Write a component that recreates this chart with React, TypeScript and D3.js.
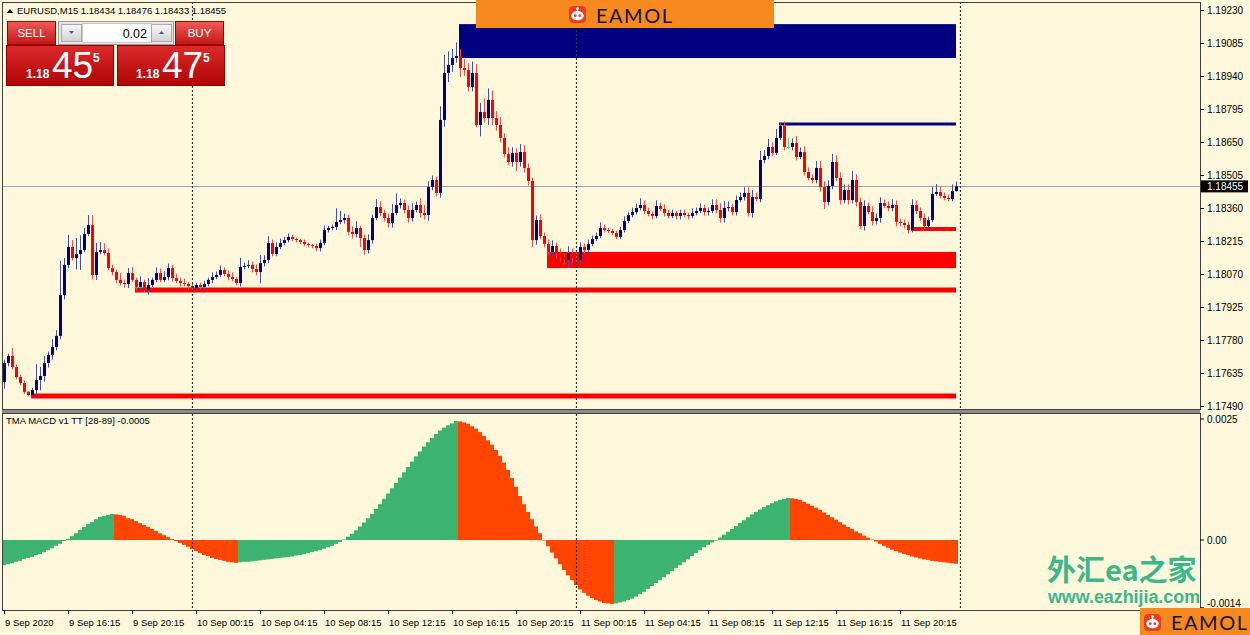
import React from 'react';
import * as d3 from 'd3';

// ---------------- DATA ----------------
const firstOpen = 1.17596;
const closes = [
  1.17679, 1.1771, 1.17661, 1.17617, 1.17591, 1.17552, 1.17538, 1.1756, 1.17604, 1.17622,
  1.17679, 1.17714, 1.17749, 1.17798, 1.17978, 1.1811, 1.18189, 1.1814, 1.18158, 1.18175,
  1.18246, 1.18285, 1.18066, 1.18167, 1.18175, 1.18162, 1.18096, 1.18079, 1.18044, 1.1803,
  1.18026, 1.18074, 1.18044, 1.18013, 1.18035, 1.18, 1.18022, 1.18044, 1.18074, 1.18044,
  1.18057, 1.18096, 1.18052, 1.18039, 1.1803, 1.18026, 1.18017, 1.18009, 1.18022, 1.18013,
  1.18026, 1.18044, 1.18057, 1.18066, 1.18088, 1.1807, 1.18057, 1.18048, 1.1803, 1.18101,
  1.18105, 1.1811, 1.18092, 1.18079, 1.18118, 1.18132, 1.18206, 1.18158, 1.18189, 1.18206,
  1.18219, 1.18233, 1.18224, 1.18219, 1.18211, 1.18202, 1.18197, 1.18193, 1.18184, 1.18206,
  1.18263, 1.18272, 1.18277, 1.18299, 1.18307, 1.18316, 1.18255, 1.18246, 1.18272, 1.18228,
  1.18175, 1.18219, 1.18316, 1.18364, 1.18338, 1.18316, 1.18294, 1.18338, 1.18373, 1.18382,
  1.18351, 1.18316, 1.18351, 1.18373, 1.18338, 1.18329, 1.18452, 1.18483, 1.18426, 1.18747,
  1.18953, 1.18988, 1.19019, 1.19028, 1.18975, 1.18966, 1.18892, 1.18953, 1.18725, 1.18782,
  1.18755, 1.18835, 1.18755, 1.18725, 1.18668, 1.18597, 1.18562, 1.18602, 1.18562, 1.18606,
  1.18536, 1.18479, 1.18219, 1.18307, 1.18237, 1.18202, 1.18167, 1.18193, 1.18162, 1.18145,
  1.18132, 1.18162, 1.1814, 1.18132, 1.18189, 1.18175, 1.18202, 1.18224, 1.18237, 1.18272,
  1.18263, 1.18259, 1.1825, 1.18233, 1.18263, 1.18303, 1.18329, 1.18342, 1.1836, 1.18373,
  1.18347, 1.18334, 1.18325, 1.18369, 1.18356, 1.18338, 1.18325, 1.18338, 1.18325, 1.18338,
  1.18329, 1.18325, 1.18338, 1.18347, 1.1836, 1.18342, 1.18347, 1.18373, 1.18351, 1.18316,
  1.1836, 1.18364, 1.18342, 1.18395, 1.18408, 1.18426, 1.18338, 1.18408, 1.184, 1.18571,
  1.18589, 1.18628, 1.18602, 1.18668, 1.1872, 1.18628, 1.18628, 1.18646, 1.18584, 1.18606,
  1.18518, 1.18492, 1.18483, 1.18536, 1.18452, 1.18386, 1.18457, 1.18562, 1.18492, 1.18395,
  1.18439, 1.18395, 1.18483, 1.18386, 1.18281, 1.18369, 1.18342, 1.18303, 1.18316, 1.18382,
  1.18369, 1.1836, 1.18373, 1.18299, 1.18294, 1.18285, 1.18263, 1.18373, 1.18347, 1.18316,
  1.18281, 1.18307, 1.18422, 1.1843, 1.18413, 1.18404, 1.184, 1.18434, 1.18455,
];
// upper / lower wick lengths in points (0.00001)
const wickUp = [
  15, 10, 35, 10, 10, 10, 5, 10, 70, 40,
  30, 15, 35, 25, 150, 30, 53, 30, 70, 65,
  26, 44, 44, 40, 35, 30, 20, 15, 10, 30,
  15, 22, 25, 10, 25, 10, 30, 10, 25, 20,
  25, 20, 15, 20, 15, 20, 10, 10, 10, 10,
  15, 10, 20, 15, 20, 10, 15, 20, 10, 40,
  15, 20, 15, 20, 35, 20, 30, 15, 20, 20,
  15, 15, 10, 5, 5, 10, 5, 5, 10, 15,
  20, 10, 10, 60, 40, 20, 15, 25, 30, 10,
  15, 25, 15, 35, 25, 15, 20, 40, 50, 20,
  15, 20, 30, 15, 30, 35, 25, 20, 15, 60,
  80, 60, 40, 60, 30, 40, 30, 50, 40, 40,
  60, 50, 40, 30, 35, 20, 30, 25, 20, 35,
  30, 20, 15, 20, 25, 15, 20, 25, 15, 20,
  15, 30, 20, 25, 20, 15, 20, 15, 15, 25,
  15, 10, 10, 10, 15, 20, 15, 20, 20, 30,
  20, 15, 10, 25, 15, 20, 15, 15, 10, 15,
  15, 10, 20, 15, 20, 15, 15, 25, 25, 30,
  30, 25, 15, 20, 20, 25, 25, 30, 20, 40,
  25, 35, 20, 40, 15, 20, 40, 20, 30, 20,
  25, 20, 15, 30, 30, 25, 25, 35, 30, 25,
  25, 25, 40, 25, 20, 25, 15, 25, 20, 25,
  15, 20, 25, 20, 15, 15, 15, 25, 20, 15,
  20, 15, 30, 35, 25, 15, 15, 30, 21,
];
const wickDown = [
  30, 15, 10, 10, 10, 10, 5, 5, 20, 45,
  25, 20, 20, 15, 15, 20, 15, 10, 50, 70,
  10, 10, 20, 22, 10, 10, 10, 15, 15, 10,
  15, 18, 10, 15, 15, 10, 20, 10, 10, 10,
  10, 15, 15, 10, 15, 10, 15, 10, 10, 10,
  10, 10, 15, 10, 10, 10, 15, 10, 10, 15,
  10, 10, 15, 15, 50, 15, 15, 10, 10, 10,
  10, 10, 10, 10, 10, 10, 10, 10, 15, 15,
  10, 10, 10, 15, 10, 15, 15, 20, 15, 40,
  20, 15, 15, 10, 15, 15, 20, 20, 10, 15,
  15, 20, 15, 10, 20, 20, 25, 15, 15, 20,
  30, 40, 30, 20, 40, 25, 20, 20, 10, 50,
  20, 30, 30, 25, 20, 15, 15, 20, 40, 20,
  20, 20, 30, 20, 15, 15, 15, 20, 20, 20,
  20, 35, 20, 15, 15, 15, 15, 10, 10, 10,
  10, 10, 10, 10, 10, 10, 10, 10, 10, 10,
  15, 10, 15, 10, 10, 15, 10, 10, 15, 15,
  10, 15, 10, 10, 10, 15, 15, 10, 15, 20,
  20, 15, 15, 15, 10, 15, 15, 20, 10, 15,
  15, 15, 15, 10, 10, 15, 10, 15, 15, 10,
  15, 10, 15, 15, 20, 30, 15, 15, 15, 20,
  15, 20, 15, 20, 15, 20, 10, 20, 15, 20,
  10, 15, 15, 20, 15, 15, 15, 10, 15, 15,
  15, 10, 10, 10, 10, 10, 10, 10, 1,
];
// TMA MACD histogram, in points (0.00001)
const macdPoints = [
  -52, -50, -48, -45, -43, -39, -37, -35, -31, -29,
  -25, -21, -17, -12, -8, -2, 2, 8, 14, 21,
  27, 33, 37, 43, 48, 50, 52, 54, 53, 52,
  50, 45, 43, 39, 35, 31, 27, 23, 19, 14,
  10, 6, 2, -2, -6, -10, -14, -19, -23, -27,
  -31, -33, -37, -39, -41, -43, -45, -46, -47, -46,
  -45, -45, -44, -43, -42, -41, -40, -39, -38, -37,
  -36, -35, -34, -32, -31, -29, -27, -25, -23, -21,
  -18, -15, -12, -8, -4, 1, 7, 13, 20, 28,
  36, 45, 54, 64, 74, 85, 96, 107, 118, 129,
  140, 151, 162, 173, 183, 193, 202, 211, 219, 226,
  232, 237, 241, 246, 245, 243, 240, 235, 230, 223,
  215, 206, 197, 186, 174, 160, 145, 128, 110, 91,
  74, 58, 43, 28, 14, 0, -13, -26, -38, -50,
  -62, -73, -83, -93, -102, -109, -115, -120, -124, -127,
  -130, -131, -132, -131, -129, -127, -124, -121, -117, -112,
  -107, -101, -95, -89, -83, -77, -71, -64, -58, -52,
  -46, -40, -33, -27, -21, -15, -10, -5, 0, 5,
  11, 17, 23, 29, 35, 41, 47, 53, 58, 63,
  68, 72, 76, 80, 83, 85, 87, 86, 85, 83,
  79, 75, 71, 67, 62, 57, 52, 47, 42, 37,
  32, 27, 23, 18, 14, 9, 5, 1, -3, -8,
  -12, -16, -20, -23, -26, -29, -31, -34, -36, -38,
  -40, -41, -43, -44, -45, -46, -47, -48, -49,
];
const priceTicks = [1.1923, 1.19085, 1.1894, 1.18795, 1.1865, 1.18505, 1.1836, 1.18215, 1.1807, 1.17925, 1.1778, 1.17635, 1.1749];
const macdTicks = [0.0025, 0, -0.0014];
const macdTickLabels = ['0.0025', '0.00', '-0.0014'];
const timeLabelBars = [0, 16, 32, 48, 64, 80, 96, 112, 128, 144, 160, 176, 192, 208, 224];
const timeLabels = [
  '9 Sep 2020', '9 Sep 16:15', '9 Sep 20:15', '10 Sep 00:15', '10 Sep 04:15', '10 Sep 08:15',
  '10 Sep 12:15', '10 Sep 16:15', '10 Sep 20:15', '11 Sep 00:15', '11 Sep 04:15', '11 Sep 08:15',
  '11 Sep 12:15', '11 Sep 16:15', '11 Sep 20:15',
];
const daySeparatorBars = [47, 143, 239];
const currentPrice = 1.18455;
const headerText = 'EURUSD,M15  1.18434 1.18476 1.18433 1.18455';
const macdTitle = 'TMA MACD v1 TT [28-89] -0.0005';
// zones: [fromBar, toBar] and [upper price, lower price]
const zoneBars = [[114, 238], [136, 238]];
const zoneLevels = [[1.19168, 1.19019], [1.18167, 1.18096]];
// level lines: fromBar and price
const lineBars = [33, 7, 194, 227];
const lineLevels = [1.18, 1.17534, 1.18729, 1.18268];

// ---------------- STYLE ----------------
const BG = '#FDF8DC';
const NAVY = '#000080';
const RED = '#FF0000';
const zoneColors = [NAVY, RED];
const lineColors = [RED, RED, NAVY, RED];
const lineWidths = [5, 5, 3, 4];
const FONT = "'Liberation Sans', Arial, sans-serif";

function Robot({ x, y, s }: { x: number; y: number; s: number }) {
  return (
    <g transform={`translate(${x},${y})`}>
      <rect width={s} height={s} rx={s * 0.25} fill="#EE3A22" />
      <line x1={s / 2} y1={s * 0.14} x2={s / 2} y2={s * 0.3} stroke="#fff" strokeWidth={1.4} />
      <circle cx={s / 2} cy={s * 0.15} r={s * 0.08} fill="#fff" />
      <ellipse cx={s / 2} cy={s * 0.57} rx={s * 0.37} ry={s * 0.27} fill="#fff" />
      <circle cx={s * 0.37} cy={s * 0.57} r={s * 0.08} fill="#EE3A22" />
      <circle cx={s * 0.63} cy={s * 0.57} r={s * 0.08} fill="#EE3A22" />
    </g>
  );
}

export default function App() {
  const x = d3.scaleLinear().domain([0, 238]).range([4, 956]);
  const y = d3.scaleLinear().domain([1.1749, 1.1923]).range([406, 10]);
  const ym = d3.scaleLinear().domain([-0.0014, 0.0025]).range([607.8, 419]);

  const opens = [firstOpen, ...closes.slice(0, -1)];
  const candles = closes.map((c, i) => {
    const o = opens[i];
    return {
      i, o, c,
      h: Math.max(o, c) + wickUp[i] / 1e5,
      l: Math.min(o, c) - wickDown[i] / 1e5,
    };
  });
  const macd = macdPoints.map((v) => v / 1e5);

  const plotL = 2, plotR = 1200, mainT = 2, mainB = 409, subT = 413, subB = 610;

  return (
    <svg width={1250} height={635} style={{ position: 'absolute', left: 0, top: 0 }} fontFamily={FONT}>
      <defs>
        <linearGradient id="redBtn" x1="0" y1="0" x2="0" y2="1">
          <stop offset="0" stopColor="#F25A5A" />
          <stop offset="1" stopColor="#C41616" />
        </linearGradient>
        <linearGradient id="redBox" x1="0" y1="0" x2="0" y2="1">
          <stop offset="0" stopColor="#DC2A2A" />
          <stop offset="1" stopColor="#B00404" />
        </linearGradient>
        <linearGradient id="grayBtn" x1="0" y1="0" x2="0" y2="1">
          <stop offset="0" stopColor="#F6F6F6" />
          <stop offset="1" stopColor="#D2D2D2" />
        </linearGradient>
        <clipPath id="mainClip">
          <rect x={plotL} y={mainT} width={plotR - plotL} height={mainB - mainT} />
        </clipPath>
        <clipPath id="subClip">
          <rect x={plotL} y={subT} width={plotR - plotL} height={subB - subT} />
        </clipPath>
      </defs>
      <rect x={0} y={0} width={1250} height={635} fill={BG} />

      {/* current price line */}
      <line x1={plotL} x2={plotR} y1={Math.round(y(currentPrice)) + 0.5} y2={Math.round(y(currentPrice)) + 0.5} stroke="#9AA7B0" strokeWidth={1.2} />

      {/* zones */}
      <g clipPath="url(#mainClip)">
        {zoneBars.map((b, k) => (
          <rect key={'z' + k} x={x(b[0]) - 1} y={y(zoneLevels[k][0])} width={x(b[1]) - x(b[0]) + 1}
            height={y(zoneLevels[k][1]) - y(zoneLevels[k][0])} fill={zoneColors[k]} />
        ))}
        {lineBars.map((b, k) => (
          <line key={'l' + k} x1={x(b) - 1} x2={x(238)} y1={y(lineLevels[k])} y2={y(lineLevels[k])}
            stroke={lineColors[k]} strokeWidth={lineWidths[k]} />
        ))}
        {/* candles */}
        {candles.map((d) => {
          const up = d.c > d.o;
          const doji = d.c === d.o;
          const body = doji ? '#5BDB5B' : up ? NAVY : RED;
          const wick = doji ? '#5BDB5B' : up ? '#4450A8' : '#FF4A4A';
          const xi = Math.round(x(d.i));
          const top = y(Math.max(d.o, d.c));
          const bot = y(Math.min(d.o, d.c));
          return (
            <g key={'c' + d.i}>
              <line x1={xi + 0.5} x2={xi + 0.5} y1={y(d.h)} y2={y(d.l)} stroke={wick} strokeWidth={1} />
              <rect x={xi - 1} y={top} width={3} height={Math.max(1, bot - top)} fill={body} />
            </g>
          );
        })}
      </g>

      {/* MACD histogram */}
      <g clipPath="url(#subClip)">
        {macd.map((v, i) => {
          const rising = i === 0 || v >= macd[i - 1];
          const y0 = ym(0), y1 = ym(v);
          return (
            <rect key={'m' + i} x={Math.round(x(i)) - 2} y={Math.min(y0, y1)} width={4}
              height={Math.max(0.5, Math.abs(y1 - y0))} fill={rising ? '#3CB371' : '#FF4500'} />
          );
        })}
      </g>

      {/* day separators */}
      {daySeparatorBars.map((b) => (
        <line key={'d' + b} x1={Math.round(x(b)) + 0.5} x2={Math.round(x(b)) + 0.5} y1={mainT} y2={subB}
          stroke="#333" strokeWidth={1.2} strokeDasharray="2,2" />
      ))}

      {/* frames */}
      <rect x={plotL + 0.5} y={mainT + 0.5} width={plotR - plotL} height={mainB - mainT} fill="none" stroke="#404040" />
      <rect x={plotL} y={mainB + 1} width={plotR - plotL} height={subT - mainB - 1} fill="#8A8A8A" />
      <rect x={plotL + 0.5} y={subT + 0.5} width={plotR - plotL} height={subB - subT} fill="none" stroke="#404040" />

      {/* price axis */}
      {priceTicks.map((p) => (
        <g key={'p' + p}>
          <line x1={plotR} x2={plotR + 4} y1={Math.round(y(p)) + 0.5} y2={Math.round(y(p)) + 0.5} stroke="#000" />
          <text x={plotR + 7} y={y(p)} dy="0.35em" fontSize={10} fill="#000">{p.toFixed(5)}</text>
        </g>
      ))}
      <rect x={plotR + 1} y={y(currentPrice) - 6} width={47} height={12} fill="#000" />
      <text x={plotR + 7} y={y(currentPrice)} dy="0.35em" fontSize={10} fill="#fff">{currentPrice.toFixed(5)}</text>

      {/* macd axis */}
      {macdTicks.map((v, k) => (
        <g key={'mt' + k}>
          <line x1={plotR} x2={plotR + 4} y1={ym(v)} y2={ym(v)} stroke="#000" />
          <text x={plotR + 7} y={Math.min(ym(v), 603)} dy="0.35em" fontSize={10} fill="#000">{macdTickLabels[k]}</text>
        </g>
      ))}

      {/* time axis */}
      {timeLabelBars.map((b, k) => (
        <g key={'t' + b}>
          <line x1={Math.round(x(b)) + 0.5} x2={Math.round(x(b)) + 0.5} y1={subB} y2={subB + 4} stroke="#000" />
          <text x={x(b) + 1} y={626} fontSize={9.5} fill="#000">{timeLabels[k]}</text>
        </g>
      ))}

      {/* titles */}
      <path d="M7,13 L10,9 L13,13 Z" fill="#000" />
      <text x={17} y={14} fontSize={9.5} fill="#000">{headerText}</text>
      <text x={6} y={424} fontSize={9.5} fill="#000">{macdTitle}</text>

      {/* one-click trading panel */}
      <g>
        <rect x={7.5} y={21.5} width={48} height={23} fill="url(#redBtn)" stroke="#A00000" />
        <text x={31.5} y={37} fontSize={11.5} fill="#fff" textAnchor="middle">SELL</text>
        <rect x={58.5} y={21.5} width={115} height={23} fill="#E4E4E4" stroke="#9C9C9C" />
        <rect x={61.5} y={24.5} width={20} height={17} fill="url(#grayBtn)" stroke="#AAAAAA" />
        <path d="M69,31 L74,31 L71.5,34 Z" fill="#4A5A80" />
        <rect x={82.5} y={23.5} width={69} height={19} fill="#fff" stroke="#C8C8C8" />
        <text x={147} y={38} fontSize={12.5} fill="#000" textAnchor="end">0.02</text>
        <rect x={151.5} y={24.5} width={20} height={17} fill="url(#grayBtn)" stroke="#AAAAAA" />
        <path d="M159,34 L164,34 L161.5,31 Z" fill="#4A5A80" />
        <rect x={175.5} y={21.5} width={48} height={23} fill="url(#redBtn)" stroke="#A00000" />
        <text x={199.5} y={37} fontSize={11.5} fill="#fff" textAnchor="middle">BUY</text>

        <rect x={6.5} y={45.5} width={107} height={40} fill="url(#redBox)" stroke="#8E0000" />
        <text x={26} y={78} fontSize={12} fontWeight="bold" fill="#fff">1.18</text>
        <text x={52} y={78} fontSize={37} fill="#fff">45</text>
        <text x={93} y={62} fontSize={12} fontWeight="bold" fill="#fff">5</text>
        <rect x={117.5} y={45.5} width={107} height={40} fill="url(#redBox)" stroke="#8E0000" />
        <text x={136} y={78} fontSize={12} fontWeight="bold" fill="#fff">1.18</text>
        <text x={162} y={78} fontSize={37} fill="#fff">47</text>
        <text x={203} y={62} fontSize={12} fontWeight="bold" fill="#fff">5</text>
      </g>

      {/* top banner */}
      <rect x={476} y={0} width={298} height={28} fill="#F7891F" />
      <Robot x={569} y={6} s={17} />
      <text x={596} y={23} fontSize={20} fontFamily="Lato, sans-serif" letterSpacing={1.5} fill="#151515">EAMOL</text>

      {/* watermark */}
      <text x={1047} y={581} fontSize={29} fontWeight="bold" fontFamily="'Noto Sans CJK SC', sans-serif" fill="#3DB68A">外汇ea之家</text>
      <text x={1048} y={603} fontSize={17.5} fontWeight="bold" fontFamily={FONT} fill="#3DB68A" textLength={152} lengthAdjust="spacingAndGlyphs">www.eazhijia.com</text>

      {/* bottom-right badge */}
      <rect x={1140} y={608} width={110} height={27} fill="#F7891F" />
      <Robot x={1144} y={614} s={17} />
      <text x={1171} y={630} fontSize={20} fontFamily="Lato, sans-serif" letterSpacing={1.5} fill="#151515">EAMOL</text>
    </svg>
  );
}
